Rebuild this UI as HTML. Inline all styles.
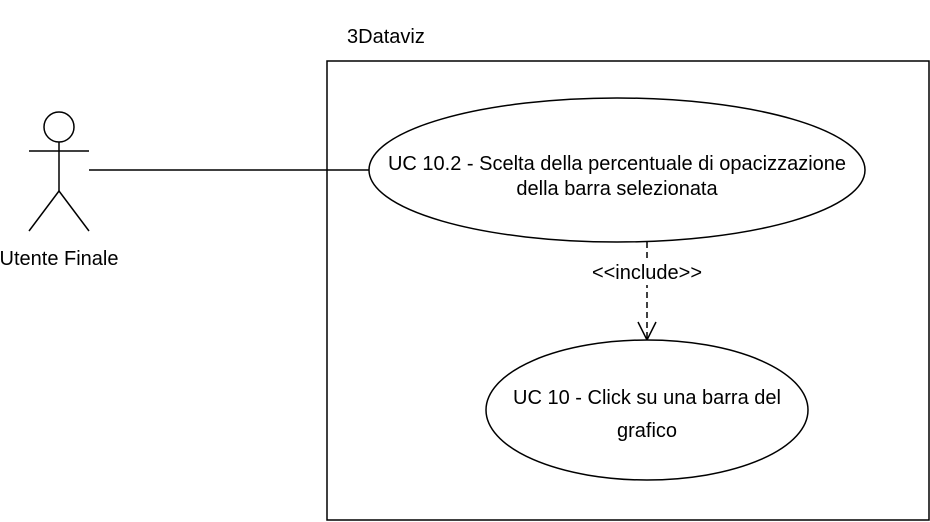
<!DOCTYPE html>
<html><head><meta charset="utf-8"><style>
html,body{margin:0;padding:0;background:#fff;width:930px;height:522px;overflow:hidden}
text{font-family:"Liberation Sans",Helvetica,Arial,sans-serif;font-size:20px;fill:#000}
</style></head><body>
<svg width="930" height="522" viewBox="0 0 930 522" xmlns="http://www.w3.org/2000/svg">
<rect x="327" y="61" width="602" height="459" fill="#fff" stroke="#000" stroke-width="1.5"/>
<text x="347" y="43">3Dataviz</text>
<circle cx="59" cy="127" r="15" fill="#fff" stroke="#000" stroke-width="1.5"/>
<line x1="59" y1="142" x2="59" y2="191" stroke="#000" stroke-width="1.5"/>
<line x1="29" y1="151" x2="89" y2="151" stroke="#000" stroke-width="1.5"/>
<line x1="59" y1="191" x2="29" y2="231" stroke="#000" stroke-width="1.5"/>
<line x1="59" y1="191" x2="89" y2="231" stroke="#000" stroke-width="1.5"/>
<text x="59" y="265" text-anchor="middle">Utente Finale</text>
<line x1="89" y1="170" x2="369" y2="170" stroke="#000" stroke-width="1.5"/>
<ellipse cx="617" cy="170" rx="248" ry="72" fill="#fff" stroke="#000" stroke-width="1.5"/>
<text x="617" y="170" text-anchor="middle">UC 10.2 - Scelta della percentuale di opacizzazione</text>
<text x="617" y="195" text-anchor="middle">della barra selezionata</text>
<line x1="647" y1="242" x2="647" y2="338" stroke="#000" stroke-width="1.5" stroke-dasharray="6 4"/>
<polyline points="638,322 647,340 656,322" fill="none" stroke="#000" stroke-width="1.5"/>
<rect x="586" y="261" width="122" height="24" fill="#fff"/>
<text x="647" y="279" text-anchor="middle">&lt;&lt;include&gt;&gt;</text>
<ellipse cx="647" cy="410" rx="161" ry="70" fill="#fff" stroke="#000" stroke-width="1.5"/>
<text x="647" y="404" text-anchor="middle">UC 10 - Click su una barra del</text>
<text x="647" y="437" text-anchor="middle">grafico</text>
</svg>
</body></html>
